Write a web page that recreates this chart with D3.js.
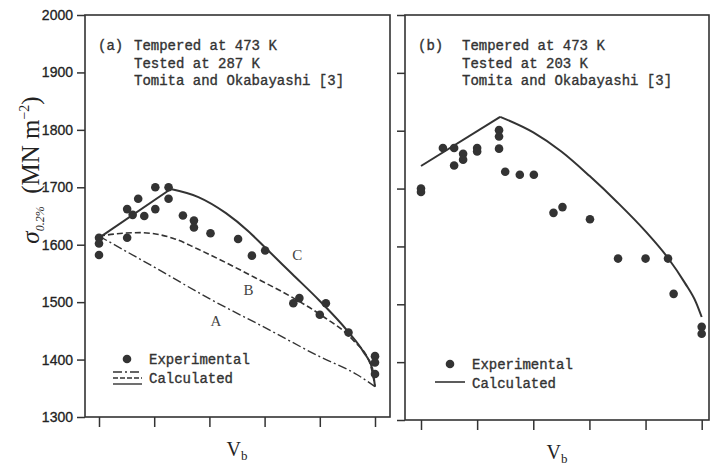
<!DOCTYPE html>
<html><head><meta charset="utf-8">
<script src="https://cdn.jsdelivr.net/npm/d3@7"></script>
<style>body{margin:0;background:#fff}</style>
</head><body>
<svg id="c" width="713" height="468"></svg>
<script>
// ---- data ----
const yTicks = [1300,1400,1500,1600,1700,1800,1900,2000];
const xTicks = [0,1,2,3,4,5];
// Panel (a) experimental points [Vb position, stress]
const expA = [[0,1612],[0,1602],[0,1582],[0.51,1612],[0.51,1662],[0.61,1652],[0.71,1680],[0.82,1650],
  [1.02,1700],[1.02,1662],[1.26,1700],[1.26,1680],[1.52,1651],[1.72,1642],[1.72,1630],[2.02,1620],
  [2.52,1610],[2.77,1581],[3.01,1590],[3.52,1498],[3.63,1507],[4.0,1478],[4.11,1498],[4.52,1447],
  [5,1406],[5,1395],[5,1375]];
const curveC_rise = [[0,1612],[1.3,1697]];
const curveC_fall = [[1.3,1697],[1.8,1683],[2.3,1655],[2.7,1624],[3.0,1596],[3.5,1549],[4.0,1502],[4.5,1450],[4.8,1412],[4.95,1385],[5,1353]];
const curveB = [[0,1615],[0.44,1620],[0.74,1621],[1.35,1611],[1.8,1592],[2.86,1541],[3.58,1504],[4.06,1475],[4.6,1434],[4.91,1393],[5,1353]];
const curveA = [[0,1615],[0.5,1588],[1.0,1561],[2.0,1506],[3.0,1456],[4.0,1405],[4.67,1374],[5,1353]];
// Panel (b)
const expB = [[0,1700],[0,1694],[0.39,1770],[0.59,1770],[0.59,1740],[0.75,1760],[0.75,1750],[1.0,1770],[1.0,1764],
  [1.39,1801],[1.39,1790],[1.39,1769],[1.5,1729],[1.76,1724],[2.01,1724],[2.36,1658],[2.52,1668],[3.01,1647],
  [3.51,1579],[4.0,1579],[4.4,1579],[4.5,1518],[5,1461],[5,1449]];
const curveb_rise = [[0,1739],[1.41,1824]];
const curveb_fall = [[1.41,1824],[2.0,1797],[2.5,1764],[3.0,1722],[3.5,1676],[4.0,1626],[4.4,1580],[4.7,1537],[4.9,1503],[5,1478]];
const textA = ["Tempered at 473 K","Tested at 287 K","Tomita and Okabayashi [3]"];
const textB = ["Tempered at 473 K","Tested at 203 K","Tomita and Okabayashi [3]"];
const legendLabels = ["Experimental","Calculated"];

// ---- drawing ----
const svg = d3.select("#c");
const ink = "#333";
const mono = "'Liberation Mono','DejaVu Sans Mono',monospace";
const serif = "'Liberation Serif','DejaVu Serif',serif";

const xa = d3.scaleLinear().domain([0,5]).range([99,375]);
const ya = d3.scaleLinear().domain([1300,2000]).range([417,15]);
const xb = d3.scaleLinear().domain([0,5]).range([421,701.7]);
const yb = d3.scaleLinear().domain([1300,2000]).range([420,15]);

function frame(x0,y0,x1,y1){
  svg.append("rect").attr("x",x0).attr("y",y0).attr("width",x1-x0).attr("height",y1-y0)
    .attr("fill","none").attr("stroke",ink).attr("stroke-width",1.6);
}
frame(85,15,390,417);
frame(405,15,709,420);

function styleAxis(g){
  g.selectAll("path").remove();
  g.selectAll("line").attr("stroke",ink).attr("stroke-width",1.5);
  g.selectAll("text").attr("fill","#222").attr("stroke","#222").attr("stroke-width",0.3)
    .style("font-family","'Liberation Sans',Arial,sans-serif").style("font-size","14px");
}
svg.append("g").attr("transform","translate(85,0)")
  .call(d3.axisLeft(ya).tickValues(yTicks).tickSize(8).tickPadding(4).tickFormat(d3.format("d"))).call(styleAxis);
svg.append("g").attr("transform","translate(405,0)")
  .call(d3.axisLeft(yb).tickValues(yTicks).tickSize(8).tickFormat("")).call(styleAxis);
svg.append("g").attr("transform","translate(0,417)")
  .call(d3.axisBottom(xa).tickValues(xTicks).tickSize(10).tickFormat("")).call(styleAxis);
svg.append("g").attr("transform","translate(0,420)")
  .call(d3.axisBottom(xb).tickValues(xTicks).tickSize(10).tickFormat("")).call(styleAxis);

function drawLine(data,xs,ys,curve,dash,w){
  const l = d3.line().x(d=>xs(d[0])).y(d=>ys(d[1])).curve(curve);
  svg.append("path").attr("d",l(data)).attr("fill","none").attr("stroke",ink)
    .attr("stroke-width",w).attr("stroke-dasharray",dash||null);
}
drawLine(curveA,xa,ya,d3.curveMonotoneX,"9,3,2,3",1.4);
drawLine(curveB,xa,ya,d3.curveMonotoneX,"6,3",1.6);
drawLine(curveC_rise,xa,ya,d3.curveLinear,null,2);
drawLine(curveC_fall,xa,ya,d3.curveMonotoneX,null,2);
drawLine(curveb_rise,xb,yb,d3.curveLinear,null,2);
drawLine(curveb_fall,xb,yb,d3.curveMonotoneX,null,2);

function dots(data,xs,ys){
  svg.append("g").selectAll("circle").data(data).join("circle")
    .attr("cx",d=>xs(d[0])).attr("cy",d=>ys(d[1])).attr("r",4.3).attr("fill",ink);
}
dots(expA,xa,ya);
dots(expB,xb,yb);

// curve labels
function lab(t,x,y){ svg.append("text").attr("x",x).attr("y",y).text(t)
  .attr("fill","#444").style("font-family",serif).style("font-size","15px"); }
lab("C",xa(3.5),ya(1573));
lab("B",xa(2.62),ya(1512));
lab("A",xa(2.02),ya(1458));

// annotations
const monoStyle = s => s.attr("fill",ink).attr("stroke",ink).attr("stroke-width",0.35)
  .style("font-family",mono).style("font-size","14px");
function block(tag,lines,x0,x1){
  svg.append("text").attr("x",x0).attr("y",50).text(tag).call(monoStyle);
  lines.forEach((t,i)=>svg.append("text").attr("x",x1).attr("y",50+i*17.5).text(t).call(monoStyle));
}
block("(a)",textA,98,134);
block("(b)",textB,418,462);

// legends
function ltext(t,x,y){ svg.append("text").attr("x",x).attr("y",y).text(t).call(monoStyle); }
svg.append("circle").attr("cx",127).attr("cy",359).attr("r",4.3).attr("fill",ink);
ltext(legendLabels[0],149,364); ltext(legendLabels[1],149,383);
[[372,"9,3,2,3"],[378,"5,2"],[384,null]].forEach(([y,d])=>svg.append("line").attr("x1",113).attr("x2",142)
  .attr("y1",y).attr("y2",y).attr("stroke",ink).attr("stroke-width",1.4).attr("stroke-dasharray",d));
svg.append("circle").attr("cx",450).attr("cy",364).attr("r",4.3).attr("fill",ink);
ltext(legendLabels[0],472,369); ltext(legendLabels[1],472,388);
svg.append("line").attr("x1",435).attr("x2",465).attr("y1",382).attr("y2",382).attr("stroke",ink).attr("stroke-width",1.6);

// axis titles
function vb(x,y){
  const t = svg.append("text").attr("x",x).attr("y",y).attr("text-anchor","middle").attr("fill","#222")
    .style("font-family",serif).style("font-size","20px");
  t.append("tspan").text("V");
  t.append("tspan").text("b").attr("dy",4).style("font-size","13px");
}
vb(237,456); vb(557,459);

const yl = svg.append("text").attr("transform","translate(39,170) rotate(-90)").attr("text-anchor","middle")
  .attr("fill","#222").style("font-family",serif).style("font-size","25px");
yl.append("tspan").text("σ").style("font-style","italic");
yl.append("tspan").text("0.2%").attr("dy",5).style("font-size","12px").style("font-style","italic");
yl.append("tspan").text("\u00a0\u00a0(MN m").attr("dy",-5);
yl.append("tspan").text("−2").attr("dy",-10).style("font-size","14px");
yl.append("tspan").text(")").attr("dy",10);
</script>
</body></html>
